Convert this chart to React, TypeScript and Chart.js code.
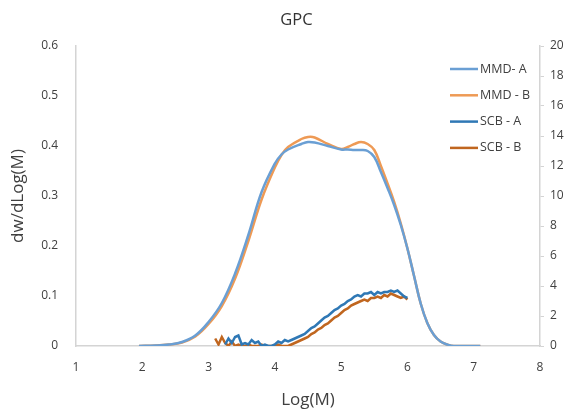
import React, { useEffect, useRef } from "react";
import { Chart, registerables } from "chart.js";

Chart.register(...registerables);

const titleText = "GPC";
const xTitle = "Log(M)";
const yTitle = "dw/dLog(M)";

const seriesLabels = ["MMD- A", "MMD - B", "SCB - A", "SCB - B"];

// Molecular mass distribution (left axis)
const mmdX = [1.95, 2.2, 2.4, 2.6, 2.8, 3.0, 3.2, 3.4, 3.6, 3.8, 4.0, 4.1, 4.2, 4.4, 4.5, 4.6, 4.8, 5.0, 5.1, 5.2, 5.3, 5.4, 5.5, 5.6, 5.7, 5.8, 5.9, 6.0, 6.1, 6.2, 6.3, 6.4, 6.5, 6.6, 6.7, 7.1];
const mmdA = [0, 0.001, 0.003, 0.008, 0.021, 0.048, 0.086, 0.145, 0.222, 0.308, 0.365, 0.383, 0.393, 0.404, 0.408, 0.407, 0.4, 0.393, 0.393, 0.392, 0.392, 0.39, 0.378, 0.348, 0.316, 0.282, 0.242, 0.195, 0.14, 0.085, 0.046, 0.022, 0.009, 0.003, 0, 0];
const mmdB = [0, 0.001, 0.003, 0.007, 0.019, 0.044, 0.08, 0.135, 0.21, 0.293, 0.357, 0.382, 0.398, 0.414, 0.418, 0.417, 0.404, 0.394, 0.398, 0.404, 0.408, 0.404, 0.392, 0.36, 0.325, 0.288, 0.245, 0.195, 0.14, 0.085, 0.046, 0.022, 0.009, 0.003, 0, 0];

// Short chain branching (right axis)
const scbAX = [3.25, 3.3, 3.35, 3.4, 3.45, 3.5, 3.55, 3.6, 3.65, 3.7, 3.75, 3.8, 3.85, 3.9, 3.95, 4.0, 4.05, 4.1, 4.15, 4.2, 4.25, 4.3, 4.35, 4.4, 4.45, 4.5, 4.55, 4.6, 4.65, 4.7, 4.75, 4.8, 4.85, 4.9, 4.95, 5.0, 5.05, 5.1, 5.15, 5.2, 5.25, 5.3, 5.35, 5.4, 5.45, 5.5, 5.55, 5.6, 5.65, 5.7, 5.75, 5.8, 5.85, 5.9, 5.95, 6.0];
const scbA = [0.1, 0.5, 0.2, 0.6, 0.7, 0.1, 0.2, 0.1, 0.4, 0.2, 0.3, 0.0, 0.1, 0.0, 0.0, 0.1, 0.3, 0.2, 0.4, 0.3, 0.4, 0.5, 0.6, 0.7, 0.8, 1.0, 1.2, 1.3, 1.5, 1.7, 1.9, 2.0, 2.2, 2.4, 2.5, 2.7, 2.8, 3.0, 3.1, 3.3, 3.4, 3.3, 3.5, 3.5, 3.6, 3.4, 3.6, 3.5, 3.6, 3.6, 3.7, 3.6, 3.7, 3.5, 3.3, 3.2];
const scbBX = [3.1, 3.15, 3.2, 3.25, 3.3, 3.35, 3.4, 3.45, 3.5, 3.55, 3.6, 3.65, 3.7, 3.75, 3.8, 3.85, 3.9, 3.95, 4.0, 4.05, 4.1, 4.15, 4.2, 4.25, 4.3, 4.35, 4.4, 4.45, 4.5, 4.55, 4.6, 4.65, 4.7, 4.75, 4.8, 4.85, 4.9, 4.95, 5.0, 5.05, 5.1, 5.15, 5.2, 5.25, 5.3, 5.35, 5.4, 5.45, 5.5, 5.55, 5.6, 5.65, 5.7, 5.75, 5.8, 5.85, 5.9, 5.95, 6.0];
const scbB = [0.5, 0.1, 0.6, 0.2, 0.0, 0.3, 0.0, 0.1, 0.0, 0.0, 0.1, 0.0, 0.0, 0.0, 0.1, 0.0, 0.0, 0.0, 0.0, 0.1, 0.0, 0.0, 0.0, 0.1, 0.2, 0.3, 0.4, 0.5, 0.6, 0.8, 0.9, 1.1, 1.2, 1.4, 1.5, 1.7, 1.9, 2.0, 2.2, 2.4, 2.5, 2.7, 2.8, 2.9, 3.0, 3.1, 3.0, 3.2, 3.2, 3.3, 3.2, 3.4, 3.3, 3.5, 3.4, 3.3, 3.2, 3.3, 3.1];

const colors = ["#6a9fd4", "#ee9a55", "#2f78b5", "#c0661f"];

const FONT = "'Open Sans', 'Liberation Sans', sans-serif";
const TEXT = "#404040";

const pts = (xs: number[], ys: number[]) => xs.map((x, i) => ({ x, y: ys[i] }));

const titlePlugin = {
  id: "mainTitle",
  afterDraw(chart: any) {
    const { ctx, chartArea } = chart;
    ctx.save();
    ctx.fillStyle = "#333333";
    ctx.font = `16.5px ${FONT}`;
    ctx.textAlign = "center";
    ctx.textBaseline = "middle";
    ctx.fillText(titleText, chartArea.left + (chartArea.right - chartArea.left) * 0.475, 20);
    ctx.restore();
  },
};

const legendPlugin = {
  id: "insideLegend",
  afterDraw(chart: any) {
    const { ctx, chartArea } = chart;
    const x0 = chartArea.right - 90;
    const y0 = chartArea.top + 23;
    const gap = 26.3;
    chart.data.datasets.forEach((ds: any, i: number) => {
      const y = y0 + i * gap;
      ctx.save();
      ctx.strokeStyle = ds.borderColor;
      ctx.lineWidth = 2.5;
      ctx.beginPath();
      ctx.moveTo(x0, y);
      ctx.lineTo(x0 + 28, y);
      ctx.stroke();
      ctx.fillStyle = TEXT;
      ctx.font = `12.5px ${FONT}`;
      ctx.textBaseline = "middle";
      ctx.textAlign = "left";
      ctx.fillText(ds.label, x0 + 30, y);
      ctx.restore();
    });
  },
};

export default function App() {
  const ref = useRef<HTMLCanvasElement | null>(null);

  useEffect(() => {
    if (!ref.current) return;
    const lineCommon = {
      borderWidth: 2.5,
      pointRadius: 0,
      fill: false,
      showLine: true,
    };
    const chart = new Chart(ref.current, {
      type: "line",
      data: {
        datasets: [
          { ...lineCommon, label: seriesLabels[0], data: pts(mmdX, mmdA), borderColor: colors[0], yAxisID: "y", tension: 0.4 },
          { ...lineCommon, label: seriesLabels[1], data: pts(mmdX, mmdB), borderColor: colors[1], yAxisID: "y", tension: 0.4 },
          { ...lineCommon, label: seriesLabels[2], data: pts(scbAX, scbA), borderColor: colors[2], yAxisID: "y1", tension: 0 },
          { ...lineCommon, label: seriesLabels[3], data: pts(scbBX, scbB), borderColor: colors[3], yAxisID: "y1", tension: 0 },
        ],
      },
      options: {
        responsive: false,
        animation: false,
        layout: { padding: { top: 46, right: 0, bottom: 0, left: 0 } },
        plugins: {
          legend: { display: false },
          title: { display: false },
          tooltip: { enabled: false },
        },
        scales: {
          x: {
            type: "linear",
            min: 1,
            max: 8,
            ticks: { stepSize: 1, color: TEXT, font: { family: FONT, size: 12 }, padding: 6 },
            grid: { display: false },
            border: { display: true, color: "#d4d4d4", width: 1.5 },
            title: { display: true, text: xTitle, color: TEXT, font: { family: FONT, size: 17 }, padding: { top: 3, bottom: 0 } },
            afterFit: (s: any) => { s.height = 64; },
          },
          y: {
            position: "left",
            min: 0,
            max: 0.6,
            ticks: { stepSize: 0.1, color: TEXT, font: { family: FONT, size: 12 }, padding: 10 },
            grid: { display: false },
            border: { display: true, color: "#d4d4d4", width: 1.5 },
            title: { display: true, text: yTitle, color: TEXT, font: { family: FONT, size: 17 }, padding: { top: 8, bottom: 0 } },
            afterFit: (s: any) => { s.width = 76; },
          },
          y1: {
            position: "right",
            min: 0,
            max: 20,
            ticks: { stepSize: 2, color: TEXT, font: { family: FONT, size: 12 }, padding: 6 },
            grid: { display: true, drawOnChartArea: false, drawTicks: true, tickLength: 4, color: "#d4d4d4" },
            border: { display: true, color: "#d4d4d4", width: 1.5 },
            afterFit: (s: any) => { s.width = 30; },
          },
        },
      },
      plugins: [titlePlugin, legendPlugin],
    } as any);
    return () => chart.destroy();
  }, []);

  return (
    <div style={{ position: "fixed", left: 0, top: 0, width: 570, height: 410, background: "#fff" }}>
      <canvas ref={ref} width={570} height={410} />
    </div>
  );
}
